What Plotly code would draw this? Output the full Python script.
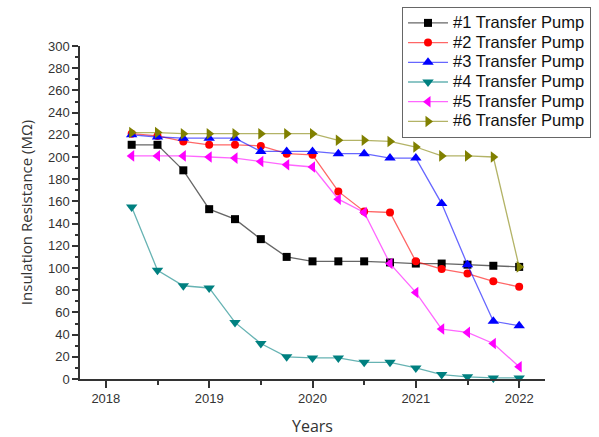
import plotly.graph_objects as go

# Quarterly inspection dates (decimal years)
years = [2018.25, 2018.5, 2018.75, 2019.0, 2019.25, 2019.5, 2019.75, 2020.0,
         2020.25, 2020.5, 2020.75, 2021.0, 2021.25, 2021.5, 2021.75, 2022.0]

# Insulation resistance readings (MΩ) per transfer pump
pump1 = [211, 211, 188, 153, 144, 126, 110, 106, 106, 106, 105, 104, 104, 103, 102, 101]
pump2 = [221, 219, 214, 211, 211, 210, 203, 202, 169, 151, 150, 106, 99, 95, 88, 83]
pump3 = [220, 218, 217, 217, 217, 205, 205, 205, 203, 203, 199, 199, 158, 103, 52, 48]
pump4 = [155, 98, 84, 82, 51, 32, 20, 19, 19, 15, 15, 10, 4, 2, 1, 1]
pump5 = [201, 201, 201, 200, 199, 196, 193, 191, 162, 150, 104, 78, 45, 42, 32, 11]
pump6 = [222, 222, 221, 221, 221, 221, 221, 221, 215, 215, 214, 209, 201, 201, 200, 101]

names = ["#1 Transfer Pump", "#2 Transfer Pump", "#3 Transfer Pump",
         "#4 Transfer Pump", "#5 Transfer Pump", "#6 Transfer Pump"]
series = [pump1, pump2, pump3, pump4, pump5, pump6]
colors = [(0, 0, 0), (255, 0, 0), (0, 0, 255), (0, 128, 128), (255, 0, 255), (128, 128, 0)]
symbols = ["square", "circle", "triangle-up", "triangle-down", "triangle-left", "triangle-right"]
sizes = [8, 8, 10, 10, 10, 10]

year_ticks = [2018, 2019, 2020, 2021, 2022]

fig = go.Figure()
for name, vals, (r, g, b), sym, sz in zip(names, series, colors, symbols, sizes):
    fig.add_trace(go.Scatter(
        x=years, y=vals, mode="lines+markers",
        # larger legend lettering while keeping compact legend rows
        name=f'<span style="font-size:16.5px">{name}</span>',
        line=dict(color=f"rgba({r},{g},{b},0.6)", width=1.3),
        marker=dict(symbol=sym, size=sz, color=f"rgb({r},{g},{b})", line=dict(width=0)),
        cliponaxis=False,
    ))

tick_font = dict(family="Liberation Sans, Arial, sans-serif", size=13, color="#333333")
title_font = dict(family="Open Sans, sans-serif", size=15, color="#333333")

fig.update_layout(
    width=599, height=437,
    margin=dict(l=80, r=54, t=46, b=58, autoexpand=False),
    paper_bgcolor="white", plot_bgcolor="white",
    showlegend=True,
    legend=dict(
        x=0.6925, y=1.117, xanchor="left", yanchor="top",
        itemwidth=40,
        bgcolor="white", bordercolor="#666666", borderwidth=1,
        font=dict(family="Liberation Sans, Arial, sans-serif", size=12.85, color="#111111"),
    ),
    xaxis=dict(
        range=[2017.75, 2022.25], tickmode="array", tickvals=year_ticks,
        ticktext=[str(y) for y in year_ticks],
        showgrid=False, zeroline=False,
        showline=True, linecolor="#333333", linewidth=1.5,
        ticks="outside", ticklen=7, tickwidth=1.5, tickcolor="#333333",
        minor=dict(tickvals=[2018.5, 2019.5, 2020.5, 2021.5], ticks="outside",
                   ticklen=4, tickwidth=1.5, tickcolor="#333333"),
        tickfont=tick_font,
        title=dict(text="Years", font=dict(family="Open Sans, sans-serif", size=16, color="#333333"),
                   standoff=16),
    ),
    yaxis=dict(
        range=[0, 300], dtick=20, tick0=0,
        showgrid=False, zeroline=False,
        showline=True, linecolor="#333333", linewidth=1.5,
        ticks="outside", ticklen=6, tickwidth=1.5, tickcolor="#333333",
        minor=dict(dtick=10, ticks="outside", ticklen=3, tickwidth=1.5, tickcolor="#333333"),
        tickfont=tick_font,
        title=dict(text="Insulation Resistance (MΩ)", font=title_font, standoff=12),
    ),
)

fig.write_html("out.html")
